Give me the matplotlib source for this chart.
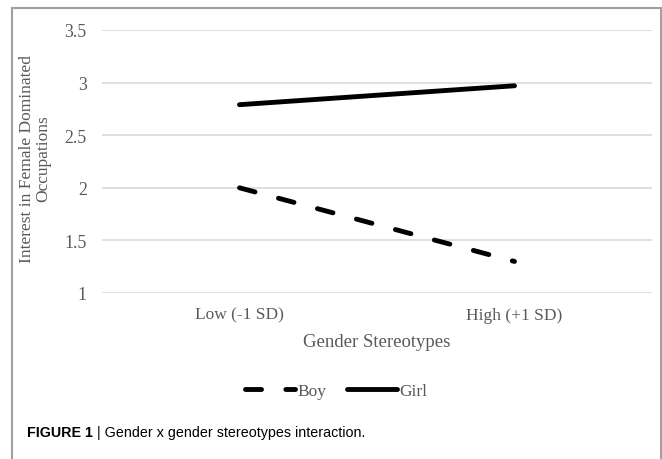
import matplotlib.pyplot as plt
from matplotlib import font_manager
from matplotlib.lines import Line2D

categories = ["Low (-1 SD)", "High (+1 SD)"]
boy = [2.0, 1.3]
girl = [2.79, 2.97]
yticks = [1, 1.5, 2, 2.5, 3, 3.5]
ytick_labels = ["1", "1.5", "2", "2.5", "3", "3.5"]

serif = "Liberation Serif"
grey = "#595959"

installed = {f.name for f in font_manager.fontManager.ttflist}
cap_font = "Liberation Sans Narrow" if "Liberation Sans Narrow" in installed else "Liberation Sans"
cap_size = 12.5 if cap_font == "Liberation Sans Narrow" else 10.3

fig = plt.figure(figsize=(6.62, 4.6), dpi=100)
ax = fig.add_axes([102 / 662, 1 - 294 / 460, 550 / 662, 263 / 460])

x = list(range(len(categories)))
ax.plot(x, boy, color="black", lw=3.5, dashes=(3.3, 5.0),
        dash_capstyle="round", solid_capstyle="round", label="Boy")
ax.plot(x, girl, color="black", lw=3.5, solid_capstyle="round", label="Girl")

ax.set_xlim(-0.5, 1.5)
ax.set_ylim(1, 3.5)
ax.set_yticks(yticks)
ax.set_yticklabels(ytick_labels, fontfamily=serif, fontsize=12.8, color=grey)
ax.set_xticks(x)
ax.set_xticklabels(categories, fontfamily=serif, fontsize=12.5, color=grey)
ax.tick_params(axis="y", length=0, pad=11)
ax.tick_params(axis="x", length=0, pad=10)
ax.grid(axis="y", color="#d9d9d9", lw=1.2)
ax.set_axisbelow(True)
for s in ax.spines.values():
    s.set_visible(False)

ax.set_xlabel("Gender Stereotypes", fontfamily=serif, fontsize=13.5, color=grey, labelpad=7)
fig.text(35.5 / 662, 1 - 159 / 460, "Interest in Female Dominated\nOccupations",
         rotation=90, ha="center", va="center", multialignment="center",
         fontfamily=serif, fontsize=12.5, color=grey, linespacing=1.0)

leg = fig.legend(loc="center", bbox_to_anchor=(336 / 662, 1 - 392 / 460), ncol=2,
                 frameon=False, handlelength=2.9, columnspacing=1.2, handletextpad=0.1,
                 prop={"family": serif, "size": 12.5})
for t in leg.get_texts():
    t.set_color(grey)

# frame around the figure panel
frame_c = "#a0a0a0"
fig.add_artist(Line2D([12 / 662, 12 / 662], [0, 1 - 9 / 460], color=frame_c, lw=1.5,
                      transform=fig.transFigure))
fig.add_artist(Line2D([12 / 662, 660.5 / 662], [1 - 9 / 460, 1 - 9 / 460], color=frame_c,
                      lw=1.5, transform=fig.transFigure))
fig.add_artist(Line2D([660.5 / 662, 660.5 / 662], [0, 1 - 9 / 460], color=frame_c, lw=1.5,
                      transform=fig.transFigure))

cap = fig.text(27 / 662, 1 - 433 / 460, "FIGURE 1", fontfamily=cap_font,
               fontweight="bold", fontsize=cap_size, va="center")
ax.annotate(" | Gender x gender stereotypes interaction.", xy=(1, 0.5), xycoords=cap,
            va="center", ha="left", fontfamily=cap_font, fontsize=cap_size)

fig.savefig("out.png", dpi=100)
